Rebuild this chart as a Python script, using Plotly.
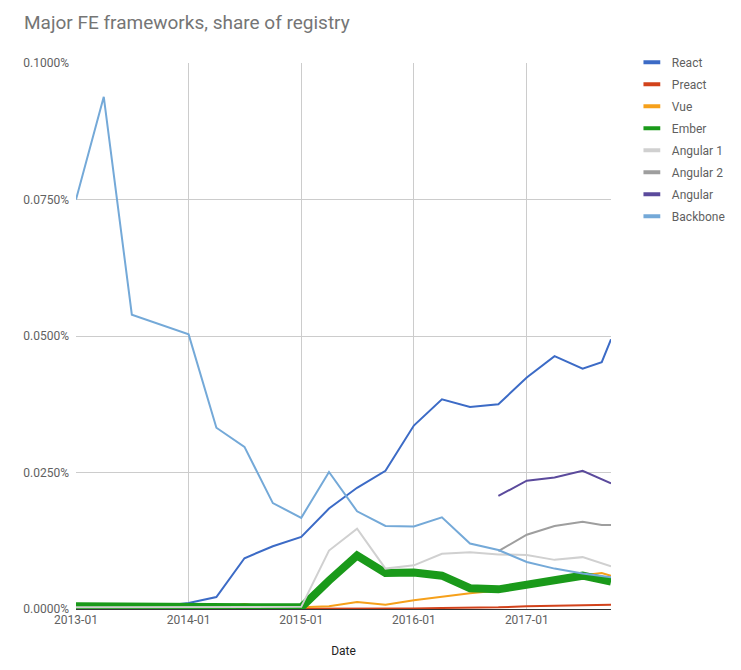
import plotly.graph_objects as go

# quarterly snapshots (plus one extra in Sep 2017), values are % of registry
dates = [
    "2013-01-01", "2013-04-01", "2013-07-01", "2013-10-01",
    "2014-01-01", "2014-04-01", "2014-07-01", "2014-10-01",
    "2015-01-01", "2015-04-01", "2015-07-01", "2015-10-01",
    "2016-01-01", "2016-04-01", "2016-07-01", "2016-10-01",
    "2017-01-01", "2017-04-01", "2017-07-01", "2017-09-01", "2017-10-01",
]

react = [0.0004, 0.0004, 0.0004, 0.0005, 0.0011, 0.0022, 0.0093, 0.0115,
         0.0132, 0.0184, 0.0222, 0.0253, 0.0336, 0.0384, 0.0370, 0.0375,
         0.0424, 0.0463, 0.0440, 0.0452, 0.0494]
preact = [0.0, 0.0, 0.0, 0.0, 0.0, 0.0, 0.0, 0.0,
          0.0, 0.0, 0.0, 0.0, 0.0001, 0.0002, 0.0002, 0.0003,
          0.0005, 0.0006, 0.0007, None, 0.0008]
vue = [0.0001, 0.0001, 0.0001, 0.0002, 0.0002, 0.0002, 0.0009, 0.0002,
       0.0003, 0.0005, 0.0013, 0.0008, 0.0016, 0.0023, 0.0029, 0.0034,
       0.0044, 0.0050, 0.0062, 0.0066, 0.0061]
ember = [0.0005, 0.0005, 0.0005, 0.0005, 0.0005, 0.0005, 0.0005, 0.0005,
         0.0003, 0.0052, 0.0098, 0.0066, 0.0067, 0.0061, 0.0038, 0.0036,
         0.0045, 0.0051, 0.0061, None, 0.0050]
angular1 = [0.0003, 0.0003, 0.0003, 0.0003, 0.0003, 0.0003, 0.0003, 0.0003,
            0.0004, 0.0107, 0.0147, 0.0074, 0.0080, 0.0101, 0.0104, 0.0100,
            0.0099, 0.0090, 0.0095, None, 0.0078]
angular2 = [None] * 15 + [0.0106, 0.0136, 0.0152, 0.0160, 0.0154, 0.0154]
angular = [None] * 15 + [0.0207, 0.0235, 0.0241, 0.0253, None, 0.0230]
backbone = [0.0750, 0.0938, 0.0539, None, 0.0503, 0.0332, 0.0297, 0.0194,
            0.0167, 0.0251, 0.0179, 0.0152, 0.0151, 0.0168, 0.0120, 0.0108,
            0.0086, 0.0074, 0.0065, None, 0.0058]

y_ticks = [0, 0.025, 0.05, 0.075, 0.1]
y_tick_labels = ["0.0000%", "0.0250%", "0.0500%", "0.0750%", "0.1000%"]

series = [
    ("React", react, "#3c6bc6", 2),
    ("Preact", preact, "#d2421b", 2),
    ("Vue", vue, "#f6a01a", 2),
    ("Ember", ember, "#1a9a1a", 8),
    ("Angular 1", angular1, "#d0d0d0", 2),
    ("Angular 2", angular2, "#9e9e9e", 2),
    ("Angular", angular, "#5b4a9c", 2),
    ("Backbone", backbone, "#74a9d8", 2),
]

fig = go.Figure()
for name, vals, color, width in series:
    fig.add_trace(go.Scatter(
        x=dates, y=vals, name=name, mode="lines", connectgaps=True,
        line=dict(color=color, width=width), showlegend=False,
    ))

# legend entries drawn as short flat swatches, like the original
for name, vals, color, width in series:
    fig.add_trace(go.Scatter(
        x=[None], y=[None], name=name, mode="markers", legendgroup=name,
        marker=dict(symbol="line-ew", size=12, color=color,
                    line=dict(width=4, color=color)),
    ))

fig.update_layout(
    width=741, height=670,
    margin=dict(l=68, r=138, t=55, b=69),
    paper_bgcolor="white", plot_bgcolor="white",
    font=dict(family="Roboto, Arial, sans-serif", size=12, color="#616161"),
    title=dict(text="Major FE frameworks, share of registry",
               font=dict(size=19, color="#757575"),
               x=16 / 741, xref="container", xanchor="left",
               y=1 - 14 / 670, yref="container", yanchor="middle"),
    legend=dict(x=1.039, xanchor="left", y=1.028, yanchor="top",
                font=dict(size=12, color="#5f5f5f"), tracegroupgap=3,
                bgcolor="rgba(0,0,0,0)"),
    hovermode=False,
)
fig.update_xaxes(
    type="date", range=["2013-01-01", "2017-10-01"],
    tick0="2013-01-01", dtick="M12", tickformat="%Y-%m",
    showgrid=True, gridcolor="#cccccc", gridwidth=1,
    showline=True, linecolor="#333333", linewidth=1,
    ticks="", zeroline=False,
    title=dict(text="Date", font=dict(size=12, color="#222222"), standoff=20),
)
fig.update_yaxes(
    range=[0, 0.1], tickvals=y_ticks, ticktext=y_tick_labels,
    showgrid=True, gridcolor="#cccccc", gridwidth=1,
    zeroline=False, ticks="", ticklabelstandoff=6,
)

fig.write_html("out.html")
